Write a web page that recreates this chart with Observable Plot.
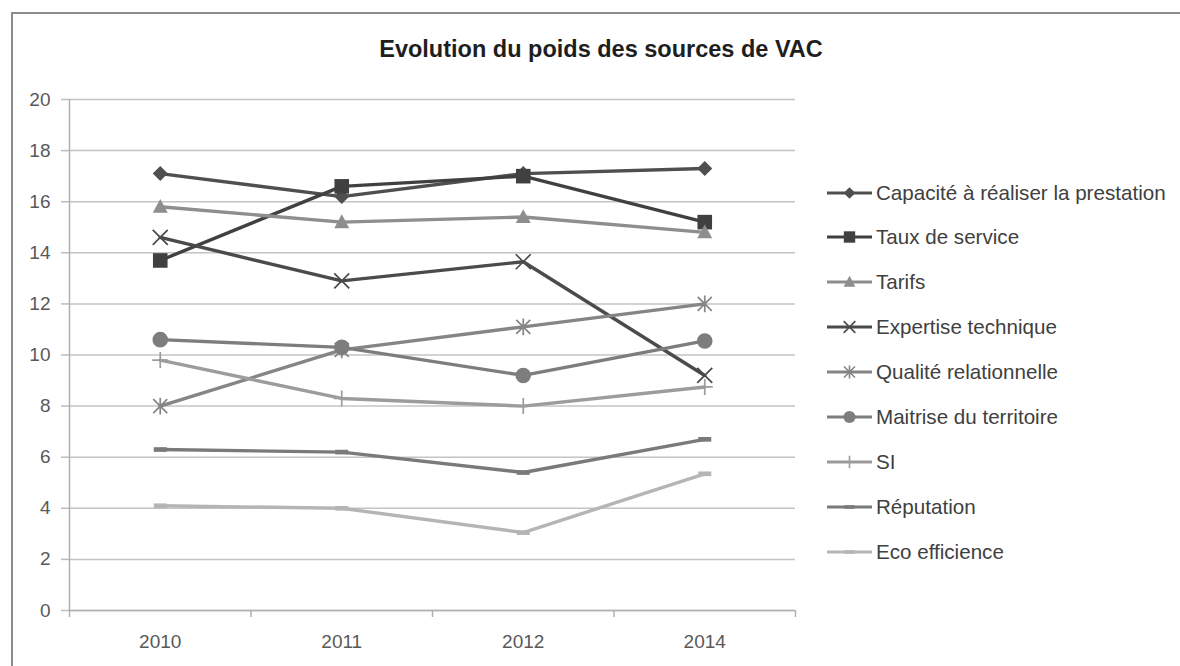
<!DOCTYPE html>
<html>
<head>
<meta charset="utf-8">
<script src="https://cdn.jsdelivr.net/npm/d3@7"></script>
<script src="https://cdn.jsdelivr.net/npm/@observablehq/plot@0.6"></script>
<style>
  html, body { margin: 0; padding: 0; background: #fff; }
  #wrap { position: relative; width: 1180px; height: 666px; overflow: hidden; background: #fff; font-family: "Liberation Sans", Arial, sans-serif; }
  #frame { position: absolute; left: 11px; top: 12px; width: 1200px; height: 700px; border: 2px solid #8c8c8c; box-sizing: border-box; }
  #title { position: absolute; left: 0; width: 1202px; top: 34px; text-align: center; font-size: 23.5px; font-weight: bold; color: #1e1e1e; line-height: 30px; }
  #chart { position: absolute; left: 0; top: 0; }
  #legend { position: absolute; left: 826px; top: 0; }
  .row { position: absolute; left: 0; display: flex; align-items: center; height: 30px; white-space: nowrap; }
  .row span { font-size: 20.6px; color: #404040; margin-left: 3px; }
</style>
</head>
<body>
<div id="wrap">
  <div id="frame"></div>
  <div id="title">Evolution du poids des sources de VAC</div>
  <div id="chart"></div>
  <div id="legend"></div>
</div>
<script>
// ---- data ----
const years = ["2010", "2011", "2012", "2014"];
const seriesNames = [
  "Capacité à réaliser la prestation",
  "Taux de service",
  "Tarifs",
  "Expertise technique",
  "Qualité relationnelle",
  "Maitrise du territoire",
  "SI",
  "Réputation",
  "Eco efficience"
];
const capacite   = [17.1, 16.2, 17.1, 17.3];
const tauxService = [13.7, 16.6, 17.0, 15.2];
const tarifs     = [15.8, 15.2, 15.4, 14.8];
const expertise  = [14.6, 12.9, 13.65, 9.2];
const qualite    = [8.0, 10.2, 11.1, 12.0];
const maitrise   = [10.6, 10.3, 9.2, 10.55];
const si         = [9.8, 8.3, 8.0, 8.75];
const reputation = [6.3, 6.2, 5.4, 6.7];
const eco        = [4.1, 4.0, 3.05, 5.35];
const seriesValues = [capacite, tauxService, tarifs, expertise, qualite, maitrise, si, reputation, eco];
const yTicks = [0, 2, 4, 6, 8, 10, 12, 14, 16, 18, 20];

// ---- styles ----
const colors = ["#4f4f4f", "#404040", "#8e8e8e", "#4b4b4b", "#858585", "#7d7d7d", "#9c9c9c", "#7a7a7a", "#b5b5b5"];

function rOf(size) { return Math.sqrt(size / Math.PI); }
const symDiamond = { draw(c, s) { const r = rOf(s); c.moveTo(0, -r); c.lineTo(r, 0); c.lineTo(0, r); c.lineTo(-r, 0); c.closePath(); } };
const symSquare = { draw(c, s) { const r = rOf(s); c.rect(-r, -r, 2 * r, 2 * r); } };
const symTriangle = { draw(c, s) { const r = rOf(s); c.moveTo(0, -r * 1.05); c.lineTo(r, r * 0.8); c.lineTo(-r, r * 0.8); c.closePath(); } };
const symTimes = { draw(c, s) { const r = rOf(s); c.moveTo(-r, -r); c.lineTo(r, r); c.moveTo(r, -r); c.lineTo(-r, r); } };
const symAsterisk = { draw(c, s) { const r = rOf(s); c.moveTo(-r, -r); c.lineTo(r, r); c.moveTo(r, -r); c.lineTo(-r, r); c.moveTo(0, -r * 1.2); c.lineTo(0, r * 1.2); } };
const symCircle = { draw(c, s) { const r = rOf(s); c.moveTo(r, 0); c.arc(0, 0, r, 0, 2 * Math.PI); } };
const symPlus = { draw(c, s) { const r = rOf(s); c.moveTo(0, -r); c.lineTo(0, r); c.moveTo(-r, 0); c.lineTo(r, 0); } };
const symDash = { draw(c, s) { const r = rOf(s); c.rect(-r, -r * 0.36, 2 * r, r * 0.72); } };

const markers = [
  { sym: symDiamond, r: 7.5, filled: true },
  { sym: symSquare, r: 7.3, filled: true },
  { sym: symTriangle, r: 7.5, filled: true },
  { sym: symTimes, r: 7.5, filled: false },
  { sym: symAsterisk, r: 7, filled: false },
  { sym: symCircle, r: 7.8, filled: true },
  { sym: symPlus, r: 8, filled: false },
  { sym: symDash, r: 6.5, filled: true },
  { sym: symDash, r: 6.5, filled: true }
];

// ---- table ----
const rows = seriesNames.flatMap((name, si) =>
  years.map((yr, i) => ({ series: name, idx: si, year: yr, x: i + 0.5, value: seriesValues[si][i] }))
);

const seriesMarks = seriesNames.flatMap((name, si) => {
  const d = rows.filter(r => r.idx === si);
  const m = markers[si];
  return [
    Plot.line(d, { x: "x", y: "value", stroke: colors[si], strokeWidth: 3.4, strokeLinejoin: "round" }),
    Plot.dot(d, m.filled
      ? { x: "x", y: "value", symbol: m.sym, r: m.r, fill: colors[si], stroke: "none" }
      : { x: "x", y: "value", symbol: m.sym, r: m.r, fill: "none", stroke: colors[si], strokeWidth: 1.7 })
  ];
});

const plot = Plot.plot({
  width: 800,
  height: 666,
  marginLeft: 69,
  marginRight: 5,
  marginTop: 99,
  marginBottom: 56,
  style: { fontFamily: "'Liberation Sans', Arial, sans-serif", fontSize: "19px", background: "transparent", overflow: "visible" },
  x: { domain: [0, years.length], axis: null, label: null },
  y: { domain: [0, 20], axis: null, label: null },
  marks: [
    Plot.gridY(yTicks, { stroke: "#c4c4c4", strokeOpacity: 1, strokeWidth: 1.5 }),
    Plot.axisY(yTicks, { label: null, tickSize: 8, tickPadding: 11, stroke: "#bdbdbd", strokeWidth: 1.5, fill: "#595959", tickFormat: d => String(d) }),
    Plot.ruleX([0], { stroke: "#b0b0b0", strokeWidth: 1.5 }),
    Plot.ruleY([0], { stroke: "#b0b0b0", strokeWidth: 1.5 }),
    Plot.axisX(d3.range(years.length + 1), { label: null, tickSize: 7, stroke: "#b0b0b0", strokeWidth: 1.5, tickFormat: () => "" }),
    Plot.axisX(years.map((_, i) => i + 0.5), { label: null, tickSize: 0, tickPadding: 24, fill: "#595959", tickFormat: v => years[Math.floor(v)] }),
    ...seriesMarks
  ]
});
document.getElementById("chart").appendChild(plot);

// ---- legend ----
const legend = d3.select("#legend");
seriesNames.forEach((name, si) => {
  const cy = 192.5 + si * 44.9;
  const row = legend.append("div").attr("class", "row").style("top", (cy - 15) + "px");
  const svg = row.append("svg").attr("width", 47).attr("height", 30);
  svg.append("line").attr("x1", 1).attr("x2", 46).attr("y1", 15).attr("y2", 15)
    .attr("stroke", colors[si]).attr("stroke-width", 3.2);
  const m = markers[si];
  const rr = m.r * 0.78;
  const p = svg.append("path")
    .attr("transform", "translate(23.5,15)")
    .attr("d", d3.symbol(m.sym, rr * rr * Math.PI)());
  if (m.filled) p.attr("fill", colors[si]);
  else p.attr("fill", "none").attr("stroke", colors[si]).attr("stroke-width", 1.6);
  row.append("span").text(name);
});
</script>
</body>
</html>
